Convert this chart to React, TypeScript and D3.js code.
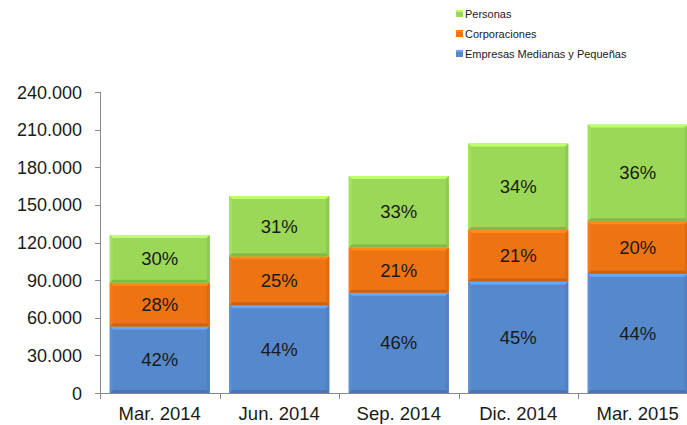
import React from 'react';
import * as d3 from 'd3';

const categories = ['Mar. 2014', 'Jun. 2014', 'Sep. 2014', 'Dic. 2014', 'Mar. 2015'];
// values in thousands
const pymes = [53, 70, 80, 89, 95];
const corporaciones = [35, 39, 36, 41, 42];
const personas = [38, 48, 57, 69, 77];
const pctPymes = ['42%', '44%', '46%', '45%', '44%'];
const pctCorp = ['28%', '25%', '21%', '21%', '20%'];
const pctPersonas = ['30%', '31%', '33%', '34%', '36%'];
const yTicks = [0, 30, 60, 90, 120, 150, 180, 210, 240];
const legendNames = ['Personas', 'Corporaciones', 'Empresas Medianas y Pequeñas'];

const W = 687, H = 425;
const font = 'Liberation Sans, Arial, sans-serif';

const seriesList = [
  { name: 'pymes', values: pymes, pct: pctPymes, color: '#5689cc' },
  { name: 'corp', values: corporaciones, pct: pctCorp, color: '#ee7313' },
  { name: 'personas', values: personas, pct: pctPersonas, color: '#9bd858' },
];

function Segment({ x0, x1, y0, y1, color, label }: any) {
  const b = 3;
  const c = d3.color(color)!;
  const light = c.brighter(0.55).formatHex();
  const lighter = c.brighter(0.12).formatHex();
  const dark = c.darker(0.45).formatHex();
  const darker = c.darker(0.2).formatHex();
  return (
    <g>
      <rect x={x0} y={y0} width={x1 - x0} height={y1 - y0} fill={color} />
      <polygon points={`${x0},${y0} ${x1},${y0} ${x1 - b},${y0 + b} ${x0 + b},${y0 + b}`} fill={light} />
      <polygon points={`${x0},${y0} ${x0 + b},${y0 + b} ${x0 + b},${y1 - b} ${x0},${y1}`} fill={lighter} />
      <polygon points={`${x1},${y0} ${x1},${y1} ${x1 - b},${y1 - b} ${x1 - b},${y0 + b}`} fill={darker} />
      <polygon points={`${x0},${y1} ${x1},${y1} ${x1 - b},${y1 - b} ${x0 + b},${y1 - b}`} fill={dark} />
      <text x={(x0 + x1) / 2} y={(y0 + y1) / 2 + 6.5} textAnchor="middle" fontSize={18.5} fontFamily={font} fill="#1a1a1a">{label}</text>
    </g>
  );
}

export default function App() {
  const x = d3.scaleBand().domain(categories).range([100, 697.5]).paddingInner(0.163).paddingOuter(0.0815);
  const y = d3.scaleLinear().domain([0, 240]).range([393, 92]);
  const stacked = d3.stack<number>().keys(['0', '1', '2'])(
    categories.map((_, i) => ({ '0': pymes[i], '1': corporaciones[i], '2': personas[i] })) as any
  );
  const step = x.step();
  const legendColors = ['#9bd858', '#ee7313', '#5689cc'];

  return (
    <svg width={W} height={H} style={{ position: 'absolute', left: 0, top: 0, background: '#fff' }}>
      {stacked.map((layer, si) =>
        layer.map((d, i) => {
          const x0 = x(categories[i])!;
          return (
            <Segment key={si + '-' + i} x0={x0} x1={x0 + x.bandwidth()} y0={y(d[1])} y1={y(d[0])}
              color={seriesList[si].color} label={seriesList[si].pct[i]} />
          );
        })
      )}
      <line x1={100.5} x2={100.5} y1={92} y2={393} stroke="#888" />
      <line x1={100} x2={697} y1={393.5} y2={393.5} stroke="#888" />
      {yTicks.map(t => (
        <g key={t}>
          <line x1={95} x2={100} y1={Math.round(y(t)) + 0.5} y2={Math.round(y(t)) + 0.5} stroke="#888" />
          <text x={82} y={y(t) + 6.5} textAnchor="end" fontSize={18} fontFamily={font} fill="#1a1a1a">
            {t === 0 ? '0' : d3.format(',')(t * 1000).replace(/,/g, '.')}
          </text>
        </g>
      ))}
      {categories.map((c, i) => (
        <g key={c}>
          <line x1={Math.round(100 + step * i) + 0.5} x2={Math.round(100 + step * i) + 0.5} y1={393} y2={399} stroke="#888" />
          <text x={x(c)! + x.bandwidth() / 2} y={420} textAnchor="middle" fontSize={18.5} fontFamily={font} fill="#1a1a1a">{c}</text>
        </g>
      ))}
      {legendNames.map((n, i) => (
        <g key={n} transform={`translate(456, ${10 + i * 20})`}>
          <rect x={0} y={0} width={7} height={7} fill={legendColors[i]} />
          <rect x={0} y={0} width={7} height={2} fill={d3.color(legendColors[i])!.brighter(0.5).formatHex()} />
          <text x={9} y={8} fontSize={11} fontFamily={font} fill="#1a1a1a">{n}</text>
        </g>
      ))}
    </svg>
  );
}
